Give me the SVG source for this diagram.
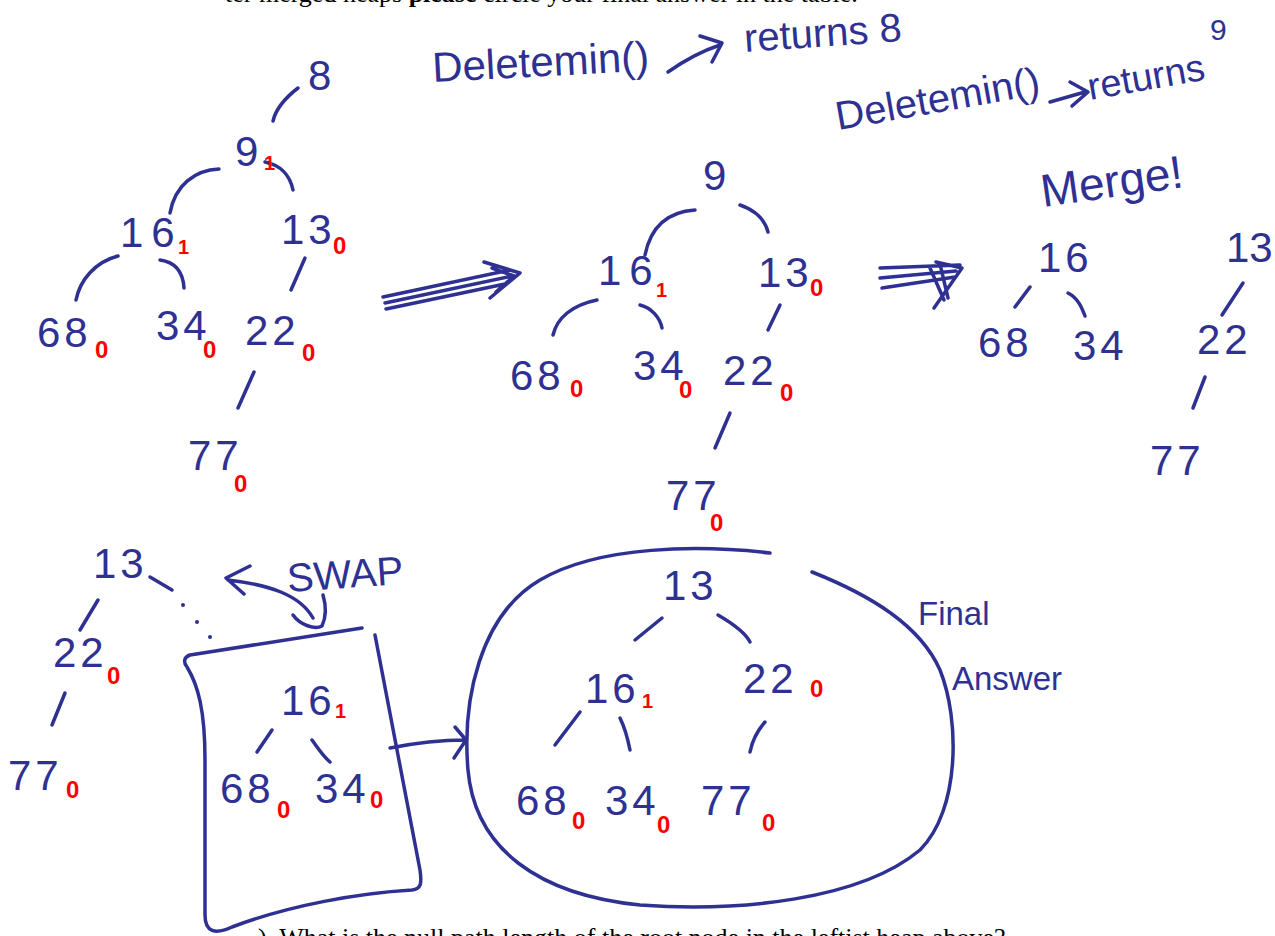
<svg xmlns="http://www.w3.org/2000/svg" width="1275" height="936" viewBox="0 0 1275 936">
<style>
.n{font-family:"Liberation Sans",Arial,sans-serif;font-size:42px;fill:#2e3192;letter-spacing:4px}
.w{letter-spacing:8px}
.z{letter-spacing:0}
.h{font-family:"Liberation Sans",Arial,sans-serif;fill:#2e3192}
.r{font-family:"Liberation Sans",Arial,sans-serif;font-size:24px;font-weight:bold;fill:#ff0000}
.r1{font-size:20px}
.p{font-family:"Liberation Serif","Times New Roman",serif;font-size:26px;fill:#000}
.s{fill:none;stroke:#2e3192;stroke-width:3.5;stroke-linecap:round;stroke-linejoin:round}
</style>
<rect width="1275" height="936" fill="#fff"/>
<text class="p" x="225" y="2">ter merged heaps <tspan font-weight="bold">please</tspan> circle your final answer in the table.</text>
<text class="p" x="258" y="946" font-size="27">). What is the null path length of the root node in the leftist heap above?</text>

<g id="notes">
<text class="h" font-size="42" x="433" y="82" transform="rotate(-3 433 82)">Deletemin()</text>
<path class="s" d="M668,72 C685,60 705,50 720,45 M700,36 L722,43 L712,62"/>
<text class="h" font-size="40" x="745" y="52" transform="rotate(-4 745 52)">returns  8</text>
<text class="h" font-size="40" x="838" y="130" transform="rotate(-10 838 130)">Deletemin()</text>
<path class="s" d="M1050,102 L1085,92 M1070,82 L1088,92 L1072,106"/>
<text class="h" font-size="38" x="1090" y="100" transform="rotate(-10 1090 100)">returns</text>
<text class="h" font-size="30" x="1210" y="40">9</text>
<text class="h" font-size="46" x="1043" y="207" transform="rotate(-8 1043 207)">Merge!</text>
<text class="h" font-size="33" x="918" y="625">Final</text>
<text class="h" font-size="33" x="952" y="690">Answer</text>
<text class="h" font-size="40" x="288" y="592" transform="rotate(-4 288 592)">SWAP</text>
</g>

<g id="connectors">
<path class="s" d="M298,88 C285,98 276,108 273,121"/>
<path class="s" d="M219,169 C195,170 175,185 170,213"/>
<path class="s" d="M265,162 C280,165 290,175 293,190"/>
<path class="s" d="M118,256 C95,262 80,280 76,300"/>
<path class="s" d="M160,260 C175,262 183,272 184,288"/>
<path class="s" d="M305,258 L291,290"/>
<path class="s" d="M254,372 L238,408"/>
<path class="s" d="M383,297 L510,270 M385,303 L512,276 M386,309 L505,284 M484,262 L520,273 L490,298 M492,268 L514,276 L496,292"/>
<path class="s" d="M695,210 C665,212 650,230 645,255"/>
<path class="s" d="M740,205 C755,210 765,220 768,232"/>
<path class="s" d="M597,300 C572,305 557,318 553,335"/>
<path class="s" d="M640,305 C652,308 660,318 662,328"/>
<path class="s" d="M780,305 L768,330"/>
<path class="s" d="M730,413 L715,448"/>
<path class="s" d="M880,268 L960,265 M880,278 L956,271 M882,288 L955,277 M936,262 L962,268 L934,308 M930,268 L944,300 M940,264 L948,298"/>
<path class="s" d="M1030,287 L1015,307"/>
<path class="s" d="M1068,293 C1078,298 1082,308 1085,316"/>
<path class="s" d="M1243,283 L1222,315"/>
<path class="s" d="M1205,377 L1193,408"/>
<path class="s" d="M150,577 L172,590"/>
<circle cx="183" cy="605" r="2" fill="#2e3192"/>
<circle cx="197" cy="622" r="2" fill="#2e3192"/>
<circle cx="210" cy="637" r="2" fill="#2e3192"/>
<path class="s" d="M98,600 L80,630"/>
<path class="s" d="M65,693 L52,725"/>
<path class="s" d="M313,618 C300,595 270,585 228,580 M250,566 L226,578 L244,594"/>
<path class="s" d="M293,615 C300,625 315,630 322,626 C327,615 326,605 323,595"/>
<path class="s" d="M362,628 L190,655 C184,657 183,662 187,667 C198,685 205,710 205,760 L205,915 C205,932 215,935 232,927 C290,905 360,893 412,890 C421,889 422,884 420,870 L375,635"/>
<path class="s" d="M272,730 L257,752"/>
<path class="s" d="M312,740 C318,748 322,755 330,762"/>
<path class="s" d="M390,748 C420,742 445,740 465,740 M455,727 L466,740 L454,758"/>
<path class="s" d="M770,553 C700,545 600,545 540,580 C480,615 462,700 468,770 C475,850 540,895 640,905 C740,912 860,900 920,850 C960,810 960,720 940,670 C920,625 870,595 812,572"/>
<path class="s" d="M662,618 L635,640"/>
<path class="s" d="M718,615 C730,622 745,632 750,642"/>
<path class="s" d="M580,712 L555,745"/>
<path class="s" d="M620,718 C625,728 628,740 630,750"/>
<path class="s" d="M765,722 C758,730 752,742 750,752"/>
</g>

<g id="t1-8"><text class="n" x="308" y="90">8</text></g>
<g id="t1-9"><text class="n" x="235" y="166">9</text><text class="r r1" x="264" y="170">1</text></g>
<g id="t1-16"><text class="n w" x="120" y="247">16</text><text class="r r1" x="178" y="254">1</text></g>
<g id="t1-13"><text class="n" x="281" y="244">13</text><text class="r" x="333" y="254">0</text></g>
<g id="t1-68"><text class="n" x="37" y="347">68</text><text class="r" x="95" y="358">0</text></g>
<g id="t1-34"><text class="n" x="156" y="340">34</text><text class="r" x="203" y="358">0</text></g>
<g id="t1-22"><text class="n" x="245" y="345">22</text><text class="r" x="302" y="361">0</text></g>
<g id="t1-77"><text class="n" x="188" y="470">77</text><text class="r" x="234" y="492">0</text></g>

<g id="t2-9"><text class="n" x="703" y="190">9</text></g>
<g id="t2-16"><text class="n w" x="598" y="285">16</text><text class="r r1" x="656" y="297">1</text></g>
<g id="t2-13"><text class="n" x="758" y="287">13</text><text class="r" x="810" y="296">0</text></g>
<g id="t2-68"><text class="n" x="510" y="390">68</text><text class="r" x="570" y="397">0</text></g>
<g id="t2-34"><text class="n" x="633" y="380">34</text><text class="r" x="679" y="398">0</text></g>
<g id="t2-22"><text class="n" x="723" y="385">22</text><text class="r" x="780" y="401">0</text></g>
<g id="t2-77"><text class="n" x="666" y="510">77</text><text class="r" x="710" y="531">0</text></g>

<g id="t3-16"><text class="n" x="1038" y="272">16</text></g>
<g id="t3-13"><text class="n z" x="1226" y="262">13</text></g>
<g id="t3-68"><text class="n" x="978" y="357">68</text></g>
<g id="t3-34"><text class="n" x="1073" y="360">34</text></g>
<g id="t3-22"><text class="n" x="1197" y="354">22</text></g>
<g id="t3-77"><text class="n" x="1150" y="475">77</text></g>

<g id="b-13"><text class="n" x="93" y="578">13</text></g>
<g id="b-22"><text class="n" x="53" y="667">22</text><text class="r" x="107" y="684">0</text></g>
<g id="b-77"><text class="n" x="8" y="790">77</text><text class="r" x="66" y="798">0</text></g>

<g id="x-16"><text class="n" x="281" y="715">16</text><text class="r r1" x="335" y="718">1</text></g>
<g id="x-68"><text class="n" x="220" y="803">68</text><text class="r" x="277" y="818">0</text></g>
<g id="x-34"><text class="n" x="315" y="803">34</text><text class="r" x="370" y="808">0</text></g>

<g id="f-13"><text class="n" x="663" y="600">13</text></g>
<g id="f-16"><text class="n" x="585" y="703">16</text><text class="r r1" x="642" y="708">1</text></g>
<g id="f-22"><text class="n" x="743" y="693">22</text><text class="r" x="810" y="697">0</text></g>
<g id="f-68"><text class="n" x="516" y="815">68</text><text class="r" x="572" y="829">0</text></g>
<g id="f-34"><text class="n" x="605" y="815">34</text><text class="r" x="657" y="833">0</text></g>
<g id="f-77"><text class="n" x="701" y="815">77</text><text class="r" x="762" y="831">0</text></g>
</svg>
